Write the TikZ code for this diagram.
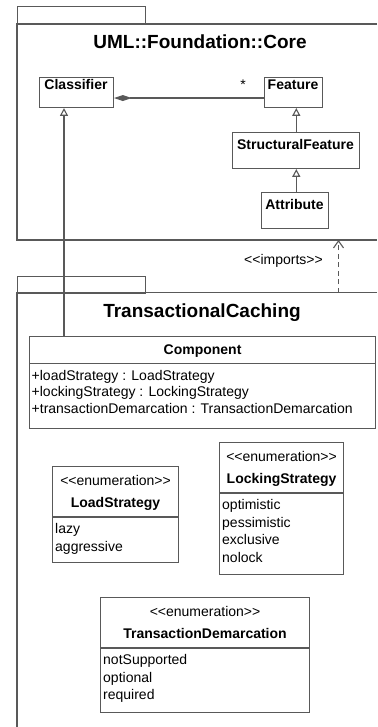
\documentclass[tikz,border=0pt]{standalone}
\usepackage{fontspec}
\setmainfont{Liberation Sans}
\usetikzlibrary{arrows.meta}
\begin{document}
\begin{tikzpicture}[x=1pt,y=-1pt,
  ln/.style={draw=black!65, line width=1.1pt},
  box/.style={ln, rectangle, fill=white, inner sep=0pt, anchor=north west},
  reg/.style={font=\fontsize{14}{17}\selectfont, inner sep=0pt, text=black},
  bld/.style={font=\bfseries\fontsize{14}{17}\selectfont, inner sep=0pt, text=black},
  ttl/.style={font=\bfseries\fontsize{19}{23}\selectfont, inner sep=0pt, text=black},
  gen/.style={ln, -{Triangle[open, length=7.7pt, width=8pt, fill=white]}},
  comp/.style={ln, {Diamond[length=17.5pt, width=6pt, fill=black!65]}-},
  dep/.style={ln, dash pattern=on 5pt off 3.5pt, -{Straight Barb[length=7pt, width=10pt]}}
]
\useasboundingbox (0,0) rectangle (377,727);

% ---------- package UML::Foundation::Core ----------
\node[box, minimum width=128pt, minimum height=18pt] (coretab) at (17,6) {};
\draw[ln] (377,24) -- (17,24) -- (17,240) -- (377,240);
\node[ttl, anchor=base] (coretitle) at (200,48.5) {UML::Foundation::Core};

\node[box, minimum width=74pt, minimum height=30pt] (classifier) at (39,77) {};
\node[bld, anchor=base] (classifiername) at (76,90) {Classifier};

\node[box, minimum width=58pt, minimum height=30pt] (feature) at (264,77) {};
\node[bld, anchor=base] (featurename) at (293,90) {Feature};
\node[reg, anchor=base] (mult) at (243,90) {*};

\node[box, minimum width=127pt, minimum height=36pt] (structural) at (232,132) {};
\node[bld, anchor=base] (structuralname) at (295.5,149.5) {StructuralFeature};

\node[box, minimum width=67pt, minimum height=36pt] (attribute) at (261,192) {};
\node[bld, anchor=base] (attributename) at (294.5,209.5) {Attribute};

% ---------- package TransactionalCaching ----------
\node[box, minimum width=128pt, minimum height=16.5pt] (transtab) at (17,276) {};
\draw[ln] (377,292.5) -- (17,292.5) -- (17,727);
\node[ttl, anchor=base] (transtitle) at (202,317) {TransactionalCaching};

\coordinate (corebot) at (338.5,240);
\coordinate (transtop) at (338.5,292.5);
\node[reg, anchor=base] (imports) at (283.5,264.5) {<{}<imports>{}>};

% Component
\node[box, minimum width=346pt, minimum height=92pt] (component) at (29,336) {};
\draw[ln] (component.west |- 0,363.5) -- (component.east |- 0,363.5);
\node[bld, anchor=base] (componentname) at (component.north |- 0,354.5) {Component};
\node[reg, anchor=base west] (attr1) at (31.5,380) {+loadStrategy : LoadStrategy};
\node[reg, anchor=base west] (attr2) at (31.5,396.5) {+lockingStrategy : LockingStrategy};
\node[reg, anchor=base west] (attr3) at (31.5,413) {+transactionDemarcation : TransactionDemarcation};

% LoadStrategy
\node[box, minimum width=126pt, minimum height=96pt] (load) at (52,466) {};
\draw[ln] (load.west |- 0,517) -- (load.east |- 0,517);
\node[reg, anchor=base] (loadster) at (load.north |- 0,485.5) {<{}<enumeration>{}>};
\node[bld, anchor=base] (loadname) at (load.north |- 0,507.5) {LoadStrategy};
\node[reg, anchor=base west] (lazy) at (55,533.5) {lazy};
\node[reg, anchor=base west] (aggr) at (55,551) {aggressive};

% LockingStrategy
\node[box, minimum width=124pt, minimum height=132pt] (lock) at (219,442) {};
\draw[ln] (lock.west |- 0,493) -- (lock.east |- 0,493);
\node[reg, anchor=base] (lockster) at (lock.north |- 0,461.5) {<{}<enumeration>{}>};
\node[bld, anchor=base] (lockname) at (lock.north |- 0,483.5) {LockingStrategy};
\node[reg, anchor=base west] (opt) at (222,509.5) {optimistic};
\node[reg, anchor=base west] (pess) at (222,527) {pessimistic};
\node[reg, anchor=base west] (excl) at (222,544.5) {exclusive};
\node[reg, anchor=base west] (nolock) at (222,562) {nolock};

% TransactionDemarcation
\node[box, minimum width=209pt, minimum height=115pt] (td) at (100,597) {};
\draw[ln] (td.west |- 0,648) -- (td.east |- 0,648);
\node[reg, anchor=base] (tdster) at (td.north |- 0,616.5) {<{}<enumeration>{}>};
\node[bld, anchor=base] (tdname) at (td.north |- 0,638.5) {TransactionDemarcation};
\node[reg, anchor=base west] (notsup) at (103,664.5) {notSupported};
\node[reg, anchor=base west] (optional) at (103,682) {optional};
\node[reg, anchor=base west] (required) at (103,699.5) {required};

% ---------- connectors ----------
\coordinate (gx) at (64,0);
\coordinate (fx) at (296.3,0);
\draw[comp] ([yshift=-5.5pt]classifier.east) -- ([yshift=-5.5pt]feature.west);
\draw[gen] (component.north -| gx) -- (classifier.south -| gx);
\draw[gen] (structural.north -| fx) -- (feature.south -| fx);
\draw[gen] (attribute.north -| fx) -- (structural.south -| fx);
\draw[dep] (transtop) -- (corebot);
\end{tikzpicture}
\end{document}
